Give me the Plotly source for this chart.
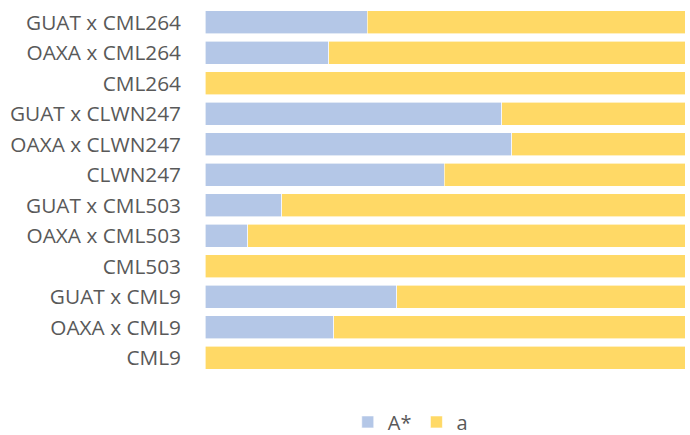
import plotly.graph_objects as go

# Genotypes, listed top to bottom
genotypes = [
    "GUAT x CML264", "OAXA x CML264", "CML264",
    "GUAT x CLWN247", "OAXA x CLWN247", "CLWN247",
    "GUAT x CML503", "OAXA x CML503", "CML503",
    "GUAT x CML9", "OAXA x CML9", "CML9",
]

# Allele frequencies (proportion of each genotype)
freq_A_star = [0.338, 0.258, 0.0, 0.618, 0.639, 0.498, 0.160, 0.089, 0.0, 0.399, 0.268, 0.0]
freq_a = [round(1 - v, 3) for v in freq_A_star]

blue = "#B4C7E7"
gold = "#FFD966"

fig = go.Figure()
fig.add_trace(go.Bar(
    y=genotypes, x=freq_A_star, name="A*", orientation="h",
    marker=dict(color=blue, line=dict(color="white", width=0.6)),
))
fig.add_trace(go.Bar(
    y=genotypes, x=freq_a, name="a", orientation="h",
    marker=dict(color=gold, line=dict(color="white", width=0.6)),
))

fig.update_layout(
    barmode="stack",
    bargap=0.25,
    width=690, height=435,
    margin=dict(l=205, r=5, t=7, b=62, autoexpand=False),
    paper_bgcolor="white", plot_bgcolor="white",
    font=dict(family="Open Sans, Liberation Sans, sans-serif", size=20.8, color="#595959"),
    xaxis=dict(range=[0, 1], visible=False, fixedrange=True),
    yaxis=dict(
        categoryorder="array", categoryarray=genotypes, autorange="reversed",
        showline=False, ticks="", ticklabelstandoff=23, showgrid=False,
    ),
    legend=dict(
        orientation="h", xref="container", yref="container",
        x=0.504, xanchor="left", y=0.03, yanchor="middle",
        font=dict(size=20, color="#595959"), itemwidth=30,
        traceorder="normal",
    ),
    showlegend=True,
)

fig.write_html("out.html")
